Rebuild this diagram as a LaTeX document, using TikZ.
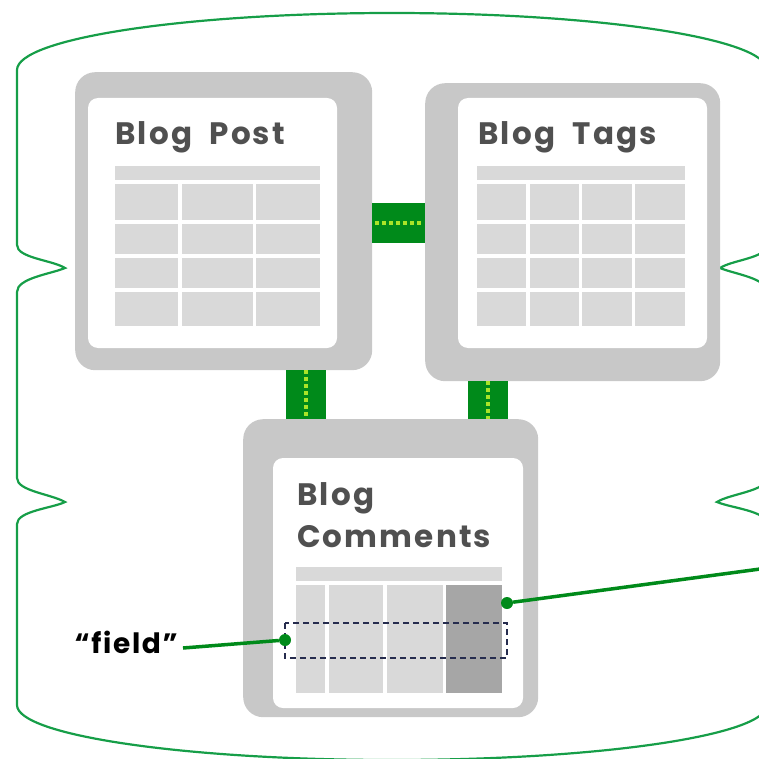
\documentclass[tikz,border=0pt]{standalone}
\usepackage{fontspec}
\setmainfont{Poppins}
\newfontfamily\spacedfont{Poppins}[LetterSpace=6]
\newfontfamily\titlefont{Poppins}[LetterSpace=7, WordSpace=2]
\usetikzlibrary{calc}

\definecolor{dbgreen}{RGB}{22,158,72}
\definecolor{linkgreen}{RGB}{0,138,26}
\definecolor{linkdots}{RGB}{170,228,40}
\definecolor{framegray}{RGB}{200,200,200}
\definecolor{cellgray}{RGB}{217,217,217}
\definecolor{keygray}{RGB}{166,166,166}
\definecolor{titlegray}{RGB}{80,80,80}
\definecolor{rownavy}{RGB}{38,44,78}

\tikzset{
  frame/.style={fill=framegray, rounded corners=20pt, inner sep=0pt, anchor=north west},
  panel/.style={fill=white, rounded corners=10pt},
  cell/.style={fill=cellgray},
  link/.style={draw=linkgreen, line width=40pt},
  linkdot/.style={draw=linkdots, line width=4pt, dash pattern=on 4pt off 3pt},
  title/.style={font=\titlefont\bfseries\fontsize{31}{42}\selectfont, text=titlegray, inner sep=0pt, anchor=base west, align=left},
  pin/.style={circle, fill=linkgreen, inner sep=0pt, minimum size=12pt},
  pinline/.style={draw=linkgreen, line width=3.5pt}
}

\begin{document}
\begin{tikzpicture}[x=1pt,y=-1pt]
\clip (0,0) rectangle (759,759);

% database outline, right side runs off the edge
\draw[dbgreen, line width=2.2pt] (17,70)
    arc[start angle=180, end angle=360, x radius=375, y radius=57]
    -- (767,245) .. controls (767,258) and (732,260) .. (720,268)
    .. controls (734,274) and (767,278) .. (767,292)
    -- (767,478) .. controls (767,491) and (729,494) .. (717,502)
    .. controls (731,508) and (767,511) .. (767,524)
    -- (767,705)
    arc[start angle=0, end angle=180, x radius=375, y radius=55]
    -- (17,524) .. controls (17,511) and (53,508) .. (65,502)
    .. controls (51,494) and (17,491) .. (17,478)
    -- (17,292) .. controls (17,278) and (51,274) .. (65,268)
    .. controls (52,260) and (17,258) .. (17,245)
    -- cycle;

% table frames
\node[frame, minimum width=297pt, minimum height=298pt] (post) at (75,72) {};
\node[frame, minimum width=295pt, minimum height=298pt] (tags) at (425,83) {};
\node[frame, minimum width=295pt, minimum height=298pt] (comm) at (243,419) {};
\fill[panel] (88,98) rectangle (337,348);
\fill[panel] (458,98) rectangle (707,348);
\fill[panel] (273,458) rectangle (523,708);

% links between tables
\coordinate (pe) at ($(post.north east)+(0,151)$);
\coordinate (pb) at ([xshift=-66.5pt]post.south east);
\coordinate (tb) at ([xshift=63pt]tags.south west);
\draw[link] (pe) -- (pe -| tags.west);
\draw[link] (pb) -- (pb |- comm.north);
\draw[link] (tb) -- (tb |- comm.north);
\draw[linkdot] ([xshift=3pt]pe) -- ([xshift=-3pt]pe -| tags.west);
\draw[linkdot] (pb) -- (pb |- comm.north);
\draw[linkdot] (tb) -- (tb |- comm.north);

% titles
\node[title] (posttitle) at (115,145) {Blog Post};
\node[title] (tagstitle) at (478,145) {Blog Tags};
\node[title] (commtitle) at (297,547) {Blog\\Comments};

% blog post cells
\fill[cell] (115,166) rectangle (320,180);
\foreach \ya/\yb in {184/220, 224/254, 258/288, 292/326}
  \foreach \xa/\xb in {115/178, 182/253, 256/320}
    \fill[cell] (\xa,\ya) rectangle (\xb,\yb);

% blog tags cells
\fill[cell] (477,166) rectangle (685,180);
\foreach \ya/\yb in {184/220, 224/254, 258/288, 292/326}
  \foreach \xa/\xb in {477/526, 530/579, 582/632, 635/685}
    \fill[cell] (\xa,\ya) rectangle (\xb,\yb);

% comment columns, last one is the key
\fill[cell] (296,567) rectangle (502,581);
\foreach \xa/\xb in {296/325, 329/383, 387/443}
  \fill[cell] (\xa,585) rectangle (\xb,693);
\fill[keygray] (446,585) rectangle (502,693);

% one row marked as a field
\draw[rownavy, line width=2.5pt, dash pattern=on 6pt off 4pt] (285,623) rectangle (507,658);

\node[pin] (fielddot) at (285,640) {};
\node[pin] (keydot) at (507,603) {};
\coordinate (farend) at (775,567);
\node[font=\spacedfont\bfseries\fontsize{28}{30}\selectfont, inner sep=0pt, anchor=base east] (fieldlbl) at (178,653) {“field”};
\draw[pinline] ($(fieldlbl.base east)+(5,-5)$) -- (fielddot);
\draw[pinline] (keydot) -- (farend);
\end{tikzpicture}
\end{document}
